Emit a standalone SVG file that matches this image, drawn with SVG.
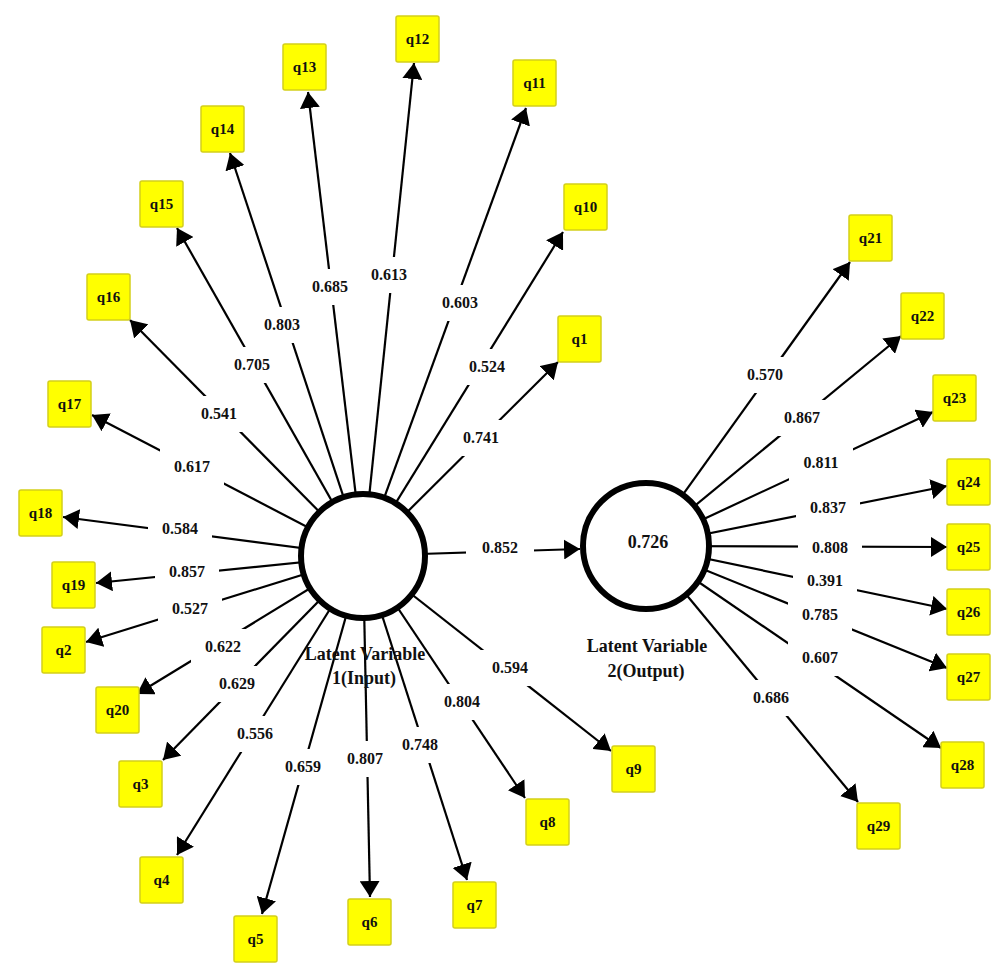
<svg xmlns="http://www.w3.org/2000/svg" width="1000" height="973" viewBox="0 0 1000 973">
<style>
.bg{fill:#fff}
.ln{stroke:#000;stroke-width:2.2;fill:none;marker-end:url(#ah)}
.box{fill:#FFFF00;stroke:#D4CF1A;stroke-width:1.5}
.bl{font-family:"Liberation Serif",serif;font-weight:bold;font-size:15px;text-anchor:middle;fill:#111}
.lab{font-family:"Liberation Serif",serif;font-weight:bold;font-size:16px;text-anchor:middle;fill:#111}
.lbg{fill:#fff}
.lv{fill:#fff;stroke:#000;stroke-width:6}
.lvt{font-family:"Liberation Serif",serif;font-weight:bold;font-size:18px;text-anchor:middle;fill:#111}
</style>
<defs>
<marker id="ah" markerUnits="userSpaceOnUse" markerWidth="16" markerHeight="20" refX="16" refY="10" orient="auto" viewBox="0 0 16 20">
<path d="M0,0 L16,10 L0,20 z" fill="#000"/>
</marker>
</defs>
<rect class="bg" x="0" y="0" width="1000" height="973"/>
<g id="connectors">
<line class="ln" x1="363" y1="556" x2="558" y2="362"/>
<line class="ln" x1="363" y1="556" x2="86" y2="642"/>
<line class="ln" x1="363" y1="556" x2="163" y2="760"/>
<line class="ln" x1="363" y1="556" x2="177" y2="855"/>
<line class="ln" x1="363" y1="556" x2="262" y2="914"/>
<line class="ln" x1="363" y1="556" x2="370" y2="897"/>
<line class="ln" x1="363" y1="556" x2="467" y2="880"/>
<line class="ln" x1="363" y1="556" x2="525" y2="798"/>
<line class="ln" x1="363" y1="556" x2="611" y2="751"/>
<line class="ln" x1="363" y1="556" x2="563" y2="232"/>
<line class="ln" x1="363" y1="556" x2="526" y2="108"/>
<line class="ln" x1="363" y1="556" x2="414" y2="63"/>
<line class="ln" x1="363" y1="556" x2="308" y2="92"/>
<line class="ln" x1="363" y1="556" x2="230" y2="153"/>
<line class="ln" x1="363" y1="556" x2="177" y2="228"/>
<line class="ln" x1="363" y1="556" x2="130" y2="320"/>
<line class="ln" x1="363" y1="556" x2="92" y2="415"/>
<line class="ln" x1="363" y1="556" x2="63" y2="517"/>
<line class="ln" x1="363" y1="556" x2="96" y2="583"/>
<line class="ln" x1="363" y1="556" x2="137" y2="694"/>
<line class="ln" x1="420" y1="554" x2="580" y2="549"/>
<line class="ln" x1="646" y1="546" x2="850" y2="262"/>
<line class="ln" x1="646" y1="546" x2="901" y2="336"/>
<line class="ln" x1="646" y1="546" x2="933" y2="412"/>
<line class="ln" x1="646" y1="546" x2="947" y2="486"/>
<line class="ln" x1="646" y1="546" x2="947" y2="547"/>
<line class="ln" x1="646" y1="546" x2="947" y2="609"/>
<line class="ln" x1="646" y1="546" x2="947" y2="668"/>
<line class="ln" x1="646" y1="546" x2="941" y2="748"/>
<line class="ln" x1="646" y1="546" x2="858" y2="802"/>
</g>
<g id="connector-labels">
<rect class="lbg" x="449" y="420" width="64" height="36"/><text class="lab" x="481" y="443">0.741</text>
<rect class="lbg" x="455" y="349" width="64" height="36"/><text class="lab" x="487" y="372">0.524</text>
<rect class="lbg" x="428" y="285" width="64" height="36"/><text class="lab" x="460" y="308">0.603</text>
<rect class="lbg" x="357" y="257" width="64" height="36"/><text class="lab" x="389" y="280">0.613</text>
<rect class="lbg" x="298" y="269" width="64" height="36"/><text class="lab" x="330" y="292">0.685</text>
<rect class="lbg" x="250" y="307" width="64" height="36"/><text class="lab" x="282" y="330">0.803</text>
<rect class="lbg" x="220" y="347" width="64" height="36"/><text class="lab" x="252" y="370">0.705</text>
<rect class="lbg" x="187" y="396" width="64" height="36"/><text class="lab" x="219" y="419">0.541</text>
<rect class="lbg" x="160" y="449" width="64" height="36"/><text class="lab" x="192" y="472">0.617</text>
<rect class="lbg" x="148" y="511" width="64" height="36"/><text class="lab" x="180" y="534">0.584</text>
<rect class="lbg" x="155" y="554" width="64" height="36"/><text class="lab" x="187" y="577">0.857</text>
<rect class="lbg" x="158" y="591" width="64" height="36"/><text class="lab" x="190" y="614">0.527</text>
<rect class="lbg" x="191" y="629" width="64" height="36"/><text class="lab" x="223" y="652">0.622</text>
<rect class="lbg" x="205" y="666" width="64" height="36"/><text class="lab" x="237" y="689">0.629</text>
<rect class="lbg" x="223" y="716" width="64" height="36"/><text class="lab" x="255" y="739">0.556</text>
<rect class="lbg" x="271" y="749" width="64" height="36"/><text class="lab" x="303" y="772">0.659</text>
<rect class="lbg" x="333" y="741" width="64" height="36"/><text class="lab" x="365" y="764">0.807</text>
<rect class="lbg" x="388" y="727" width="64" height="36"/><text class="lab" x="420" y="750">0.748</text>
<rect class="lbg" x="430" y="684" width="64" height="36"/><text class="lab" x="462" y="707">0.804</text>
<rect class="lbg" x="478" y="650" width="64" height="36"/><text class="lab" x="510" y="673">0.594</text>
<rect class="lbg" x="466" y="530" width="68" height="36"/><text class="lab" x="500" y="553">0.852</text>
<rect class="lbg" x="733" y="357" width="64" height="36"/><text class="lab" x="765" y="380">0.570</text>
<rect class="lbg" x="770" y="400" width="64" height="36"/><text class="lab" x="802" y="423">0.867</text>
<rect class="lbg" x="789" y="445" width="64" height="36"/><text class="lab" x="821" y="468">0.811</text>
<rect class="lbg" x="796" y="490" width="64" height="36"/><text class="lab" x="828" y="513">0.837</text>
<rect class="lbg" x="798" y="530" width="64" height="36"/><text class="lab" x="830" y="553">0.808</text>
<rect class="lbg" x="793" y="563" width="64" height="36"/><text class="lab" x="825" y="586">0.391</text>
<rect class="lbg" x="788" y="597" width="64" height="36"/><text class="lab" x="820" y="620">0.785</text>
<rect class="lbg" x="788" y="640" width="64" height="36"/><text class="lab" x="820" y="663">0.607</text>
<rect class="lbg" x="739" y="680" width="64" height="36"/><text class="lab" x="771" y="703">0.686</text>
</g>
<g id="lv1">
<circle class="lv" cx="363" cy="556" r="62"/>
<text class="lvt" x="365" y="660">Latent Variable</text>
<text class="lvt" x="364" y="684">1(Input)</text>
</g>
<g id="lv2">
<circle class="lv" cx="646" cy="546" r="63"/>
<text class="lvt" x="648" y="548">0.726</text>
<text class="lvt" x="647" y="652">Latent Variable</text>
<text class="lvt" x="646" y="677">2(Output)</text>
</g>
<g id="q1"><rect class="box" x="558" y="316" width="43" height="46" rx="2"/><text class="bl" x="579.5" y="344">q1</text></g>
<g id="q2"><rect class="box" x="42" y="627" width="43" height="46" rx="2"/><text class="bl" x="63.5" y="655">q2</text></g>
<g id="q3"><rect class="box" x="119" y="761" width="43" height="46" rx="2"/><text class="bl" x="140.5" y="789">q3</text></g>
<g id="q4"><rect class="box" x="140" y="857" width="43" height="46" rx="2"/><text class="bl" x="161.5" y="885">q4</text></g>
<g id="q5"><rect class="box" x="234" y="916" width="43" height="46" rx="2"/><text class="bl" x="255.5" y="944">q5</text></g>
<g id="q6"><rect class="box" x="348" y="899" width="43" height="46" rx="2"/><text class="bl" x="369.5" y="927">q6</text></g>
<g id="q7"><rect class="box" x="453" y="882" width="43" height="46" rx="2"/><text class="bl" x="474.5" y="910">q7</text></g>
<g id="q8"><rect class="box" x="526" y="799" width="43" height="46" rx="2"/><text class="bl" x="547.5" y="827">q8</text></g>
<g id="q9"><rect class="box" x="612" y="746" width="43" height="46" rx="2"/><text class="bl" x="633.5" y="774">q9</text></g>
<g id="q10"><rect class="box" x="564" y="184" width="43" height="46" rx="2"/><text class="bl" x="585.5" y="212">q10</text></g>
<g id="q11"><rect class="box" x="513" y="60" width="43" height="46" rx="2"/><text class="bl" x="534.5" y="88">q11</text></g>
<g id="q12"><rect class="box" x="396" y="16" width="43" height="46" rx="2"/><text class="bl" x="417.5" y="44">q12</text></g>
<g id="q13"><rect class="box" x="283" y="44" width="43" height="46" rx="2"/><text class="bl" x="304.5" y="72">q13</text></g>
<g id="q14"><rect class="box" x="201" y="106" width="43" height="46" rx="2"/><text class="bl" x="222.5" y="134">q14</text></g>
<g id="q15"><rect class="box" x="140" y="181" width="43" height="46" rx="2"/><text class="bl" x="161.5" y="209">q15</text></g>
<g id="q16"><rect class="box" x="87" y="274" width="43" height="46" rx="2"/><text class="bl" x="108.5" y="302">q16</text></g>
<g id="q17"><rect class="box" x="48" y="381" width="43" height="46" rx="2"/><text class="bl" x="69.5" y="409">q17</text></g>
<g id="q18"><rect class="box" x="19" y="490" width="43" height="46" rx="2"/><text class="bl" x="40.5" y="518">q18</text></g>
<g id="q19"><rect class="box" x="52" y="562" width="43" height="46" rx="2"/><text class="bl" x="73.5" y="590">q19</text></g>
<g id="q20"><rect class="box" x="96" y="687" width="43" height="46" rx="2"/><text class="bl" x="117.5" y="715">q20</text></g>
<g id="q21"><rect class="box" x="849" y="215" width="43" height="46" rx="2"/><text class="bl" x="870.5" y="243">q21</text></g>
<g id="q22"><rect class="box" x="901" y="293" width="43" height="46" rx="2"/><text class="bl" x="922.5" y="321">q22</text></g>
<g id="q23"><rect class="box" x="933" y="375" width="43" height="46" rx="2"/><text class="bl" x="954.5" y="403">q23</text></g>
<g id="q24"><rect class="box" x="947" y="459" width="43" height="46" rx="2"/><text class="bl" x="968.5" y="487">q24</text></g>
<g id="q25"><rect class="box" x="947" y="524" width="43" height="46" rx="2"/><text class="bl" x="968.5" y="552">q25</text></g>
<g id="q26"><rect class="box" x="947" y="589" width="43" height="46" rx="2"/><text class="bl" x="968.5" y="617">q26</text></g>
<g id="q27"><rect class="box" x="947" y="654" width="43" height="46" rx="2"/><text class="bl" x="968.5" y="682">q27</text></g>
<g id="q28"><rect class="box" x="941" y="742" width="43" height="46" rx="2"/><text class="bl" x="962.5" y="770">q28</text></g>
<g id="q29"><rect class="box" x="857" y="803" width="43" height="46" rx="2"/><text class="bl" x="878.5" y="831">q29</text></g>
</svg>
